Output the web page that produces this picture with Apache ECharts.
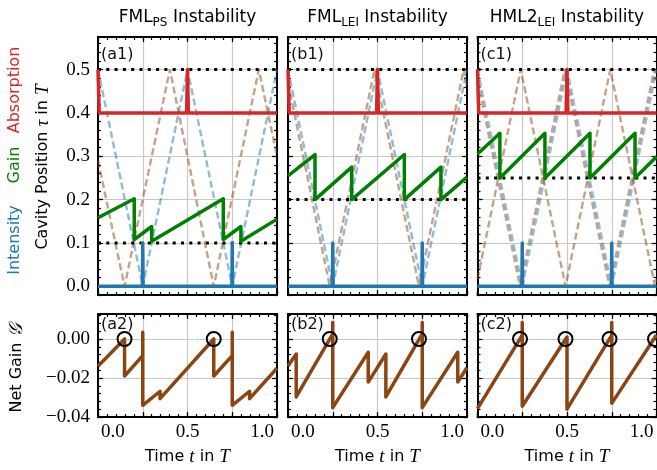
<!DOCTYPE html>
<html>
<head>
<meta charset="utf-8">
<script src="https://cdn.jsdelivr.net/npm/echarts@6/dist/echarts.min.js"></script>
<style>
  html, body { margin: 0; padding: 0; background: #ffffff; }
  #chart { width: 657px; height: 470px; }
</style>
</head>
<body>
<div id="chart"></div>
<script>
// ---- axis limits and tick values ----------------------------------------
const timeRange = [-0.1, 1.1];          // time t in units of T
const posRange = [-0.02, 0.575];        // cavity position tau in units of T
const netRange = [-0.04, 0.0128];       // net gain

const timeTicks = [-0.1, 0.2, 0.5, 0.8, 1.1];
const timeLabels = [0.0, 0.5, 1.0];
const posTicks = [0.0, 0.1, 0.2, 0.3, 0.4, 0.5];
const netTicks = [-0.04, -0.02, 0.0];

// ---- (a) FML_PS instability ------------------------------------------------
const absorptionA = [[-0.1, 0.5], [-0.092, 0.4], [0.494, 0.4], [0.5, 0.5], [0.506, 0.4], [1.1, 0.4]];
const gainA = [[-0.1, 0.158], [0.143, 0.202], [0.143, 0.108], [0.26, 0.138], [0.26, 0.104],
               [0.74, 0.202], [0.74, 0.108], [0.858, 0.138], [0.858, 0.104], [1.1, 0.155]];
const intensityA = [[-0.1, 0], [0.198, 0], [0.2, 0.1], [0.202, 0], [0.798, 0], [0.8, 0.1], [0.802, 0], [1.1, 0]];
const pulsePosA = [[-0.1, 0.5], [0.2, 0], [0.5, 0.5], [0.8, 0], [1.1, 0.5]];
const gainPosA = [[[-0.1, 0.29], [0.078, 0], [0.382, 0.5], [0.676, 0], [0.978, 0.5], [1.1, 0.3]]];
const levelsA = [0.1, 0.5];
const netGainA = [[-0.1, -0.014], [0.078, 0.0], [0.078, -0.019], [0.2, -0.0085], [0.2, 0.0034], [0.2, -0.034],
                  [0.316, -0.0268], [0.316, -0.0306], [0.676, 0.0], [0.676, -0.019], [0.8, -0.0085],
                  [0.8, 0.0034], [0.8, -0.034], [0.916, -0.0268], [0.916, -0.0306], [1.1, -0.015]];
const zeroCrossA = [[0.078, 0], [0.676, 0]];

// ---- (b) FML_LEI instability -----------------------------------------------
const absorptionB = [[-0.1, 0.5], [-0.092, 0.4], [0.494, 0.4], [0.5, 0.5], [0.506, 0.4], [1.1, 0.4]];
const gainB = [[-0.1, 0.255], [0.081, 0.304], [0.081, 0.2], [0.327, 0.275], [0.327, 0.2],
               [0.68, 0.304], [0.68, 0.2], [0.925, 0.275], [0.925, 0.2], [1.1, 0.252]];
const intensityB = [[-0.1, 0], [0.198, 0], [0.2, 0.1], [0.202, 0], [0.798, 0], [0.8, 0.1], [0.802, 0], [1.1, 0]];
const pulsePosB = [[-0.1, 0.5], [0.2, 0], [0.5, 0.5], [0.8, 0], [1.1, 0.5]];
const gainPosB = [[[-0.1, 0.47], [0.18, 0], [0.48, 0.5], [0.778, 0], [1.078, 0.5], [1.1, 0.463]]];
const levelsB = [0.2, 0.5];
const netGainB = [[-0.1, -0.0138], [-0.045, -0.0077], [-0.045, -0.0297], [0.2, 0.0026], [0.2, 0.0085],
                  [0.2, -0.0352], [0.438, -0.0068], [0.438, -0.0221], [0.556, -0.0077], [0.556, -0.0297],
                  [0.8, 0.0026], [0.8, 0.0085], [0.8, -0.0352], [1.038, -0.0068], [1.038, -0.0221],
                  [1.1, -0.0146]];
const zeroCrossB = [[0.18, 0], [0.778, 0]];

// ---- (c) HML2_LEI instability ----------------------------------------------
const absorptionC = [[-0.1, 0.5], [-0.092, 0.4], [0.494, 0.4], [0.5, 0.5], [0.506, 0.4], [1.1, 0.4]];
const gainC = [[-0.1, 0.305], [0.05, 0.353], [0.05, 0.25], [0.352, 0.353], [0.352, 0.25],
               [0.654, 0.353], [0.654, 0.25], [0.956, 0.353], [0.956, 0.25], [1.1, 0.299]];
const intensityC = [[-0.1, 0], [0.198, 0], [0.2, 0.1], [0.202, 0], [0.798, 0], [0.8, 0.1], [0.802, 0], [1.1, 0]];
const pulsePosC = [[-0.1, 0.5], [0.2, 0], [0.5, 0.5], [0.8, 0], [1.1, 0.5]];
const gainPosC = [
  [[-0.1, 0.475], [0.185, 0], [0.485, 0.5], [0.785, 0], [1.085, 0.5], [1.1, 0.475]],
  [[-0.1, 0.017], [0.19, 0.5], [0.49, 0], [0.79, 0.5], [1.09, 0], [1.1, 0.017]]
];
const levelsC = [0.25, 0.5];
const netGainC = [[-0.1, -0.0357], [0.2, 0.002], [0.2, 0.0085], [0.2, -0.0345], [0.5, 0.001], [0.5, -0.036],
                  [0.8, 0.002], [0.8, 0.0085], [0.8, -0.033], [1.1, 0.002]];
const zeroCrossC = [[0.185, 0], [0.49, 0], [0.785, 0], [1.09, 0]];

// ---- styling -----------------------------------------------------------------
const COL = {
  intensity: '#1f77b4',
  gain: '#008000',
  absorption: '#d62728',
  pulsePos: 'rgba(31,119,180,0.5)',
  gainPos: 'rgba(139,69,19,0.5)',
  net: '#8b4513',
  grid: '#c8c8c8'
};
const SANS = 'DejaVu Sans';
const SERIF = 'Liberation Serif';

const columns = [
  { left: 98, title: ['FML', 'PS'], tag: 'a',
    absorption: absorptionA, gain: gainA, intensity: intensityA, pulsePos: pulsePosA,
    gainPos: gainPosA, levels: levelsA, net: netGainA, zero: zeroCrossA },
  { left: 288, title: ['FML', 'LEI'], tag: 'b',
    absorption: absorptionB, gain: gainB, intensity: intensityB, pulsePos: pulsePosB,
    gainPos: gainPosB, levels: levelsB, net: netGainB, zero: zeroCrossB },
  { left: 477.5, title: ['HML2', 'LEI'], tag: 'c',
    absorption: absorptionC, gain: gainC, intensity: intensityC, pulsePos: pulsePosC,
    gainPos: gainPosC, levels: levelsC, net: netGainC, zero: zeroCrossC }
];
const PANEL_W = 179;
const rows = [
  { top: 37, height: 258, yRange: posRange, yTicks: posTicks, yMinorStep: 0.02, yDigits: 1 },
  { top: 314, height: 103, yRange: netRange, yTicks: netTicks, yMinorStep: 0.004, yDigits: 2 }
];

function steps(a, b, step) {
  const out = [];
  const n = Math.floor((b - a) / step + 1e-9);
  for (let i = 0; i <= n; i++) out.push(+(a + i * step).toFixed(6));
  return out;
}
const timeMinor = steps(timeRange[0], timeRange[1], 0.06);

function fmt(v, digits) {
  const s = Math.abs(v).toFixed(digits);
  return (v < -1e-12 ? '\u2212' : '') + s;
}

const grids = [], xAxes = [], yAxes = [], series = [];
const tickLine = { color: '#000', width: 1.2 };
const labelFont = { fontFamily: SERIF, fontSize: 19, color: '#000' };

function addPanel(col, row, rowIndex) {
  const rect = { left: col.left, top: row.top, width: PANEL_W, height: row.height };
  const gMain = grids.length;
  grids.push(Object.assign({ outerBoundsMode: 'none', containLabel: false }, rect));
  const gMinor = grids.length;
  grids.push(Object.assign({ outerBoundsMode: 'none', containLabel: false }, rect));

  const xMain = xAxes.length;
  // main x axes: bottom (labels, grid lines) and top mirror
  xAxes.push({
    type: 'value', gridIndex: gMain, position: 'bottom', min: timeRange[0], max: timeRange[1],
    axisLine: { show: true, onZero: false, lineStyle: { color: '#000', width: 2 } },
    axisTick: { show: true, inside: true, length: 5, customValues: timeTicks, lineStyle: tickLine },
    axisLabel: { show: rowIndex === 1, customValues: timeLabels, margin: 6,
                 formatter: v => fmt(v, 1), ...labelFont },
    splitLine: { show: true, lineStyle: { color: COL.grid, width: 1.2 } },
    minorTick: { show: false }
  });
  xAxes.push({
    type: 'value', gridIndex: gMain, position: 'top', min: timeRange[0], max: timeRange[1],
    axisLine: { show: true, onZero: false, lineStyle: { color: '#000', width: 2 } },
    axisTick: { show: true, inside: true, length: 5, customValues: timeTicks, lineStyle: tickLine },
    axisLabel: { show: false }, splitLine: { show: false }
  });
  // minor ticks on both horizontal edges
  ['bottom', 'top'].forEach(pos => xAxes.push({
    type: 'value', gridIndex: gMinor, position: pos, min: timeRange[0], max: timeRange[1],
    axisLine: { show: false, onZero: false },
    axisTick: { show: true, inside: true, length: 3, customValues: timeMinor, lineStyle: tickLine },
    axisLabel: { show: false }, splitLine: { show: false }
  }));

  const yMain = yAxes.length;
  const yMinor = steps(row.yRange[0], row.yRange[1], row.yMinorStep);
  yAxes.push({
    type: 'value', gridIndex: gMain, position: 'left', min: row.yRange[0], max: row.yRange[1],
    axisLine: { show: true, onZero: false, lineStyle: { color: '#000', width: 2 } },
    axisTick: { show: true, inside: true, length: 5, customValues: row.yTicks, lineStyle: tickLine },
    axisLabel: { show: col.tag === 'a', customValues: row.yTicks, margin: 8,
                 formatter: v => fmt(v, row.yDigits), ...labelFont },
    splitLine: { show: true, lineStyle: { color: COL.grid, width: 1.2 } },
    minorTick: { show: false }
  });
  yAxes.push({
    type: 'value', gridIndex: gMain, position: 'right', min: row.yRange[0], max: row.yRange[1],
    axisLine: { show: true, onZero: false, lineStyle: { color: '#000', width: 2 } },
    axisTick: { show: true, inside: true, length: 5, customValues: row.yTicks, lineStyle: tickLine },
    axisLabel: { show: false }, splitLine: { show: false }
  });
  ['left', 'right'].forEach(pos => yAxes.push({
    type: 'value', gridIndex: gMinor, position: pos, min: row.yRange[0], max: row.yRange[1],
    axisLine: { show: false, onZero: false },
    axisTick: { show: true, inside: true, length: 3, customValues: yMinor, lineStyle: tickLine },
    axisLabel: { show: false }, splitLine: { show: false }
  }));

  const base = { type: 'line', xAxisIndex: xMain, yAxisIndex: yMain, showSymbol: false,
                 symbol: 'none', silent: true, animation: false, clip: true };
  const solid = (data, color, z) => Object.assign({}, base, {
    data, z, lineStyle: { color, width: 3.5, join: 'round', cap: 'butt' } });

  if (rowIndex === 0) {
    series.push(Object.assign({}, base, { data: col.pulsePos, z: 2,
      lineStyle: { color: COL.pulsePos, width: 2.4, type: [7, 3.5] } }));
    col.gainPos.forEach(path => series.push(Object.assign({}, base, { data: path, z: 2,
      lineStyle: { color: COL.gainPos, width: 2.4, type: [7, 3.5] } })));
    col.levels.forEach(level => series.push(Object.assign({}, base, {
      data: [[timeRange[0], level], [timeRange[1], level]], z: 3,
      lineStyle: { color: '#000', width: 3, type: [3, 5.3] } })));
    series.push(solid(col.intensity, COL.intensity, 4));
    series.push(solid(col.gain, COL.gain, 4));
    series.push(solid(col.absorption, COL.absorption, 4));
  } else {
    series.push(solid(col.net, COL.net, 4));
    series.push({ type: 'scatter', xAxisIndex: xMain, yAxisIndex: yMain, data: col.zero,
      symbol: 'circle', symbolSize: 14, silent: true, animation: false, z: 5, clip: false,
      itemStyle: { color: 'rgba(0,0,0,0)', borderColor: '#000', borderWidth: 2, opacity: 1 } });
  }
}

columns.forEach(col => rows.forEach((row, ri) => addPanel(col, row, ri)));

// ---- text: titles, panel tags, axis captions ---------------------------------
const graphic = [];
const richMain = {
  m: { fontFamily: SANS, fontSize: 16, lineHeight: 22, color: '#111', verticalAlign: 'middle' },
  s: { fontFamily: SANS, fontSize: 11, lineHeight: 10, color: '#111', verticalAlign: 'bottom' },
  i: { fontFamily: SERIF, fontStyle: 'italic', fontSize: 19, lineHeight: 22, color: '#111', verticalAlign: 'middle' }
};
const richTitle = {
  m: { fontFamily: SANS, fontSize: 17, lineHeight: 22, color: '#111', verticalAlign: 'middle' },
  s: { fontFamily: SANS, fontSize: 12, lineHeight: 10, color: '#111', verticalAlign: 'bottom' }
};
columns.forEach(col => {
  const cx = col.left + PANEL_W / 2;
  graphic.push({ type: 'text', x: cx, y: 18, silent: true, style: {
    text: '{m|' + col.title[0] + '}{s|' + col.title[1] + '}{m| Instability}', rich: richTitle,
    align: 'center', verticalAlign: 'middle' } });
  graphic.push({ type: 'text', x: col.left + 3, y: 55, silent: true, style: {
    text: '(' + col.tag + '1)', fontFamily: SANS, fontSize: 16, fill: '#111',
    align: 'left', verticalAlign: 'middle' } });
  graphic.push({ type: 'text', x: col.left + 3, y: 325, silent: true, style: {
    text: '(' + col.tag + '2)', fontFamily: SANS, fontSize: 16, fill: '#111',
    align: 'left', verticalAlign: 'middle' } });
  graphic.push({ type: 'text', x: cx, y: 457, silent: true, style: {
    text: '{m|Time }{i|t}{m| in }{i|T}', rich: richMain, align: 'center', verticalAlign: 'middle' } });
});

const sideWords = [
  { text: 'Absorption', color: COL.absorption, y: 90 },
  { text: 'Gain', color: COL.gain, y: 165 },
  { text: 'Intensity', color: COL.intensity, y: 240 }
];
sideWords.forEach(w => graphic.push({ type: 'text', x: 15, y: w.y, rotation: Math.PI / 2, silent: true,
  style: { text: w.text, fontFamily: SANS, fontSize: 16, fill: w.color, align: 'center', verticalAlign: 'middle' } }));
graphic.push({ type: 'text', x: 43, y: 167, rotation: Math.PI / 2, silent: true, style: {
  text: '{m|Cavity Position }{i|\u03c4}{m| in }{i|T}', rich: richMain, align: 'center', verticalAlign: 'middle' } });
graphic.push({ type: 'text', x: 17, y: 368, rotation: Math.PI / 2, silent: true, style: {
  text: '{m|Net Gain }{i|\ud835\udca2}', rich: richMain, align: 'center', verticalAlign: 'middle' } });

const chart = echarts.init(document.getElementById('chart'), null, { renderer: 'canvas', width: 657, height: 470 });
chart.setOption({
  animation: false,
  backgroundColor: '#ffffff',
  grid: grids,
  xAxis: xAxes,
  yAxis: yAxes,
  series: series,
  graphic: graphic
});
</script>
</body>
</html>
